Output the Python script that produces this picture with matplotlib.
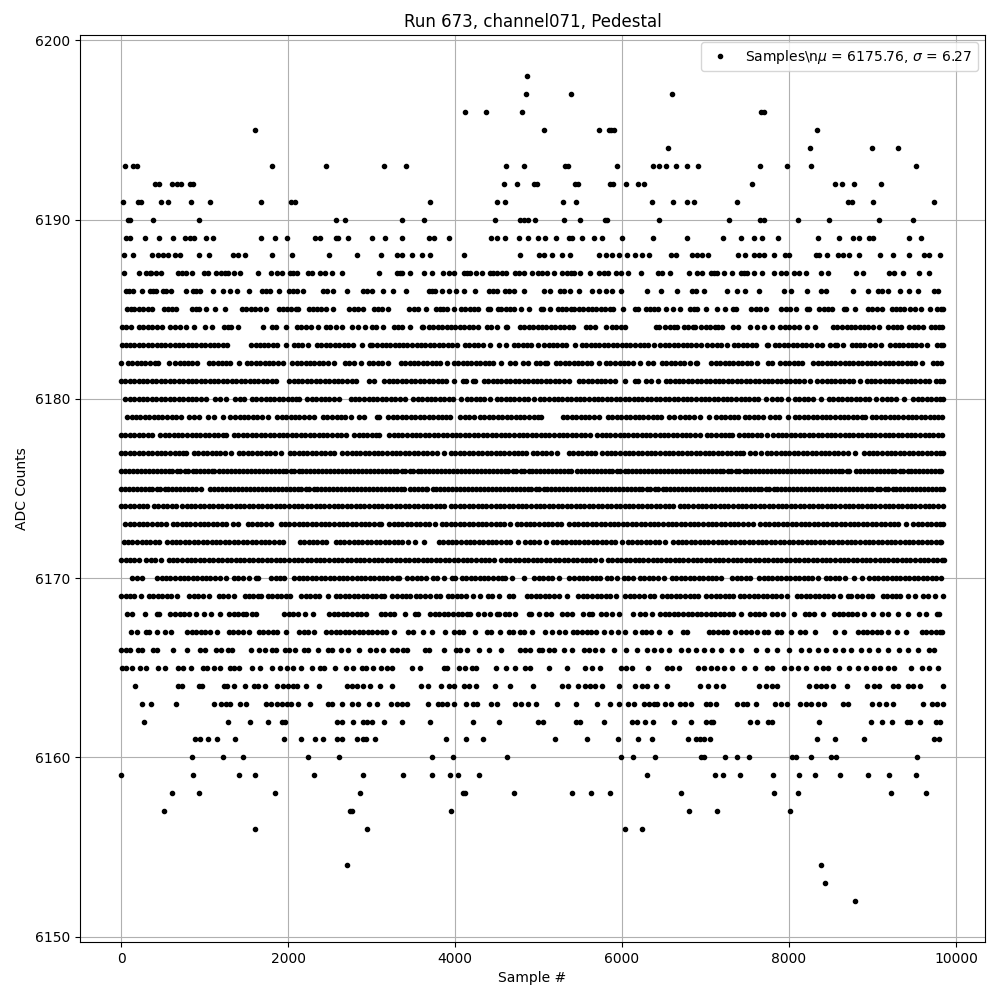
import matplotlib
matplotlib.use("Agg")
import matplotlib.pyplot as plt

# sample numbers, one list per ADC level
s6198 = [4858]
s6197 = [4846, 5386, 6598]
s6196 = [4114, 4366, 4798, 7662, 7702]
s6195 = [1606, 5062, 5722, 5842, 5870, 5902, 8338]
s6194 = [6546, 8254, 9000, 9310]
s6193 = [46, 142, 190, 1810, 2458, 3154, 3418, 4606, 4822, 5314, 5358, 5938, 6370, 6442, 6526, 6646, 6778, 6910, 7654, 7978, 8266, 9526]
s6192 = [402, 454, 610, 670, 714, 822, 862, 4582, 4738, 4942, 4982, 5434, 5474, 5854, 5894, 6046, 6190, 6262, 7558, 8554, 8638, 8782, 9106]
s6191 = [22, 202, 242, 478, 562, 838, 1066, 1678, 2034, 2082, 3694, 4498, 4602, 5290, 5446, 6358, 6610, 6782, 6862, 7378, 8710, 8750, 9010, 9742]
s6190 = [82, 110, 382, 934, 2578, 2686, 3370, 3622, 4474, 4774, 4822, 4870, 4954, 5302, 5494, 5790, 5822, 6442, 7282, 7654, 7702, 8110, 8482, 9082, 9490]
s6189 = [62, 110, 286, 450, 622, 766, 830, 878, 1018, 1102, 1678, 1846, 1990, 2326, 2386, 2574, 2598, 2722, 3010, 3166, 3370, 3682, 3742, 3922, 4430, 4502, 4602, 4762, 4870, 4990, 5074, 5206, 5362, 5402, 5518, 5662, 5758, 6002, 6370, 6778, 7210, 7430, 7582, 7682, 7870, 8350, 8602, 8770, 8842, 8962, 9002, 9442, 9586]
s6188 = [30, 142, 370, 442, 502, 562, 642, 702, 934, 1054, 1342, 1402, 1482, 1810, 2050, 2494, 2830, 3118, 3302, 3362, 3482, 3602, 3694, 4102, 4774, 5002, 5062, 5162, 5282, 5382, 5722, 5802, 5882, 5962, 6054, 6154, 6242, 6322, 6590, 6642, 6842, 6902, 6962, 7030, 7390, 7470, 7582, 7642, 7702, 7822, 7950, 8002, 8322, 8362, 8454, 8582, 8650, 8722, 8842, 9094, 9250, 9442, 9622, 9682, 9814]
s6187 = [30, 214, 302, 340, 362, 422, 482, 682, 730, 774, 854, 990, 1042, 1142, 1202, 1250, 1282, 1354, 1422, 1642, 1790, 1862, 1922, 2022, 2060, 2102, 2242, 2290, 2382, 2442, 2522, 2650, 3090, 3302, 3340, 3362, 3462, 3622, 3718, 3854, 3922, 3982, 4102, 4140, 4182, 4250, 4318, 4422, 4460, 4502, 4560, 4614, 4722, 4770, 4822, 4922, 4990, 5042, 5102, 5182, 5282, 5342, 5390, 5422, 5502, 5622, 5722, 5780, 5834, 5922, 5982, 6070, 6226, 6430, 6482, 6574, 6802, 6902, 6962, 7062, 7100, 7142, 7222, 7322, 7422, 7460, 7502, 7582, 7682, 7822, 7902, 7962, 8062, 8122, 8206, 8382, 8462, 8802, 8882, 9202, 9262, 9362, 9562, 9682]
s6186 = [62, 100, 142, 254, 342, 380, 422, 502, 540, 594, 782, 862, 900, 942, 1102, 1222, 1302, 1390, 1526, 1682, 1730, 1782, 1894, 2014, 2060, 2102, 2182, 2422, 2470, 2542, 2710, 2902, 2950, 3002, 3142, 3262, 3410, 3682, 3720, 3762, 3842, 3922, 4014, 4106, 4242, 4402, 4450, 4502, 4602, 4650, 4702, 4822, 5062, 5142, 5262, 5310, 5382, 5482, 5642, 5722, 5802, 5882, 5982, 6302, 6462, 6654, 6842, 6890, 6982, 7262, 7382, 7470, 7642, 7942, 8022, 8218, 8382, 8442, 8770, 8942, 9062, 9110, 9182, 9334, 9442, 9542, 9742, 9790]
s6185 = [70, 118, 160, 215, 260, 320, 374, 510, 560, 605, 662, 850, 900, 934, 1022, 1122, 1242, 1450, 1500, 1555, 1600, 1660, 1734, 1890, 1935, 1990, 2040, 2090, 2114, 2250, 2300, 2352, 2400, 2450, 2534, 2730, 2785, 2840, 2894, 3030, 3075, 3130, 3194, 3450, 3510, 3560, 3654, 3770, 3820, 3854, 3902, 3982, 4070, 4120, 4180, 4225, 4274, 4390, 4414, 4510, 4555, 4610, 4660, 4710, 4794, 4882, 5030, 5054, 5142, 5230, 5280, 5330, 5385, 5430, 5480, 5535, 5590, 5640, 5690, 5745, 5800, 5850, 5894, 6014, 6158, 6194, 6290, 6340, 6385, 6434, 6522, 6610, 6694, 6810, 6860, 6894, 7002, 7142, 7234, 7330, 7362, 7550, 7600, 7654, 7722, 7910, 7960, 8010, 8082, 8210, 8242, 8362, 8420, 8470, 8514, 8658, 8682, 8790, 8950, 9000, 9060, 9114, 9230, 9280, 9335, 9374, 9450, 9514, 9582, 9694, 9778, 9820, 9842]
s6184 = [5, 62, 114, 210, 260, 320, 370, 430, 494, 590, 640, 700, 774, 874, 1010, 1094, 1230, 1280, 1314, 1402, 1702, 1810, 1860, 1974, 2110, 2160, 2210, 2270, 2354, 2450, 2500, 2574, 2642, 2770, 2834, 2922, 3010, 3054, 3142, 3270, 3314, 3370, 3466, 3602, 3614, 3690, 3740, 3790, 3845, 3900, 3950, 4000, 4060, 4110, 4170, 4220, 4274, 4382, 4430, 4502, 4610, 4626, 4778, 4830, 4880, 4935, 4990, 5040, 5090, 5150, 5200, 5255, 5310, 5360, 5414, 5570, 5620, 5680, 5802, 5882, 5930, 5985, 6034, 6410, 6442, 6518, 6570, 6620, 6662, 6738, 6790, 6850, 6872, 6950, 7000, 7055, 7110, 7155, 7202, 7330, 7394, 7538, 7614, 7698, 7794, 7898, 7950, 8000, 8060, 8114, 8218, 8314, 8530, 8580, 8635, 8690, 8740, 8790, 8850, 8900, 8950, 9005, 9074, 9190, 9240, 9295, 9345, 9434, 9502, 9550, 9606, 9698, 9750, 9800, 9835]
s6183 = [5, 60, 105, 160, 210, 262, 320, 370, 425, 475, 530, 580, 640, 690, 745, 795, 850, 900, 955, 1005, 1060, 1110, 1165, 1215, 1274, 1558, 1610, 1660, 1715, 1765, 1820, 1870, 1974, 2070, 2120, 2170, 2234, 2350, 2400, 2455, 2505, 2560, 2610, 2665, 2715, 2774, 2890, 2982, 3010, 3065, 3120, 3170, 3225, 3275, 3330, 3380, 3430, 3490, 3540, 3595, 3645, 3700, 3750, 3805, 3855, 3910, 3960, 4026, 4118, 4170, 4225, 4275, 4330, 4414, 4530, 4614, 4702, 4755, 4810, 4860, 4915, 4994, 5070, 5120, 5175, 5225, 5280, 5330, 5434, 5518, 5570, 5625, 5680, 5730, 5785, 5835, 5890, 5940, 5995, 6050, 6100, 6155, 6210, 6260, 6314, 6380, 6458, 6510, 6565, 6620, 6670, 6725, 6775, 6830, 6880, 6950, 7014, 7082, 7138, 7190, 7254, 7342, 7395, 7450, 7500, 7555, 7606, 7738, 7754, 7830, 7885, 7940, 7990, 8045, 8100, 8150, 8205, 8260, 8334, 8394, 8490, 8545, 8574, 8650, 8750, 8800, 8855, 8894, 8970, 9025, 9102, 9210, 9265, 9315, 9370, 9420, 9475, 9525, 9580, 9654, 9770, 9820, 9850]
s6182 = [2, 82, 130, 185, 240, 290, 345, 400, 445, 574, 650, 700, 755, 802, 850, 914, 1050, 1100, 1155, 1205, 1260, 1310, 1414, 1510, 1560, 1615, 1665, 1720, 1770, 1825, 1874, 1942, 2050, 2105, 2155, 2210, 2260, 2315, 2370, 2420, 2475, 2554, 2682, 2735, 2790, 2874, 2970, 3020, 3075, 3125, 3194, 3350, 3400, 3455, 3510, 3560, 3615, 3665, 3720, 3770, 3825, 3902, 3982, 4035, 4090, 4140, 4195, 4250, 4300, 4355, 4405, 4460, 4546, 4662, 4722, 4810, 4874, 4970, 5020, 5075, 5102, 5210, 5260, 5315, 5370, 5420, 5475, 5525, 5580, 5630, 5726, 5810, 5860, 5915, 5970, 6020, 6075, 6130, 6214, 6310, 6374, 6482, 6530, 6585, 6640, 6690, 6745, 6814, 6890, 6894, 7070, 7125, 7175, 7230, 7285, 7335, 7390, 7440, 7495, 7550, 7622, 7750, 7794, 7898, 7950, 8005, 8060, 8110, 8154, 8290, 8345, 8395, 8450, 8505, 8555, 8610, 8665, 8715, 8770, 8825, 8875, 8930, 8985, 9035, 9090, 9145, 9195, 9250, 9305, 9355, 9410, 9465, 9515, 9594, 9722, 9770, 9822]
s6181 = [2, 50, 105, 155, 210, 265, 315, 370, 420, 475, 530, 580, 635, 690, 740, 795, 850, 900, 955, 1005, 1060, 1115, 1165, 1220, 1270, 1325, 1380, 1430, 1485, 1540, 1590, 1645, 1700, 1750, 1805, 1854, 2010, 2065, 2120, 2170, 2225, 2280, 2330, 2385, 2440, 2490, 2545, 2600, 2650, 2705, 2760, 2814, 2970, 3034, 3150, 3205, 3255, 3310, 3365, 3415, 3470, 3525, 3575, 3630, 3685, 3735, 3790, 3845, 3895, 3986, 4090, 4126, 4218, 4242, 4342, 4395, 4450, 4500, 4555, 4610, 4660, 4715, 4770, 4820, 4875, 4930, 4980, 5035, 5090, 5140, 5195, 5250, 5300, 5362, 5482, 5535, 5590, 5640, 5695, 5750, 5800, 5855, 5910, 6034, 6158, 6194, 6290, 6345, 6426, 6522, 6575, 6630, 6680, 6735, 6790, 6840, 6895, 6950, 7000, 7055, 7110, 7160, 7215, 7270, 7320, 7375, 7430, 7480, 7535, 7590, 7640, 7695, 7750, 7800, 7855, 7910, 7960, 8015, 8070, 8120, 8175, 8246, 8338, 8395, 8450, 8500, 8555, 8610, 8660, 8715, 8770, 8846, 8930, 8985, 9035, 9090, 9145, 9195, 9250, 9305, 9355, 9410, 9465, 9515, 9570, 9625, 9674, 9758, 9810, 9845]
s6180 = [50, 105, 155, 210, 265, 315, 370, 420, 475, 530, 580, 635, 690, 740, 795, 850, 900, 955, 1014, 1130, 1190, 1254, 1358, 1420, 1474, 1570, 1620, 1675, 1730, 1780, 1835, 1885, 1940, 1995, 2045, 2100, 2134, 2230, 2285, 2335, 2390, 2445, 2495, 2550, 2614, 2750, 2805, 2855, 2910, 2965, 3015, 3070, 3125, 3175, 3230, 3285, 3335, 3402, 3498, 3550, 3605, 3660, 3710, 3765, 3820, 3870, 3925, 3980, 4066, 4138, 4190, 4245, 4300, 4350, 4414, 4498, 4550, 4605, 4660, 4710, 4765, 4820, 4870, 4946, 5018, 5070, 5125, 5180, 5230, 5285, 5340, 5390, 5445, 5500, 5550, 5605, 5660, 5710, 5765, 5820, 5870, 5925, 5980, 6030, 6085, 6140, 6190, 6245, 6300, 6350, 6405, 6460, 6510, 6565, 6620, 6670, 6725, 6780, 6830, 6885, 6940, 6990, 7045, 7100, 7150, 7205, 7260, 7310, 7365, 7420, 7470, 7525, 7580, 7630, 7722, 7802, 7855, 7910, 7986, 8070, 8125, 8175, 8230, 8285, 8382, 8478, 8530, 8585, 8640, 8690, 8745, 8800, 8850, 8905, 8960, 9042, 9118, 9170, 9225, 9280, 9374, 9490, 9540, 9595, 9650, 9700, 9755, 9810, 9840]
s6179 = [70, 125, 175, 230, 285, 335, 390, 445, 495, 550, 605, 655, 714, 810, 870, 934, 1042, 1114, 1218, 1310, 1365, 1420, 1470, 1525, 1580, 1630, 1685, 1754, 1870, 1925, 1975, 2030, 2085, 2135, 2190, 2245, 2314, 2418, 2470, 2525, 2580, 2630, 2685, 2754, 2850, 2914, 3070, 3094, 3202, 3255, 3310, 3365, 3415, 3470, 3525, 3575, 3630, 3685, 3735, 3790, 3845, 3895, 3942, 4062, 4115, 4170, 4226, 4298, 4350, 4405, 4460, 4510, 4565, 4620, 4670, 4725, 4780, 4830, 4885, 4940, 4990, 5034, 5290, 5345, 5395, 5450, 5505, 5555, 5610, 5665, 5726, 5830, 5885, 5935, 5990, 6045, 6095, 6150, 6205, 6255, 6310, 6365, 6415, 6466, 6562, 6626, 6698, 6750, 6805, 6866, 6938, 7042, 7130, 7185, 7235, 7290, 7345, 7394, 7470, 7525, 7580, 7630, 7694, 7778, 7830, 7885, 7986, 8070, 8125, 8175, 8230, 8285, 8335, 8390, 8445, 8495, 8550, 8605, 8655, 8710, 8765, 8815, 8870, 8914, 8990, 9045, 9100, 9150, 9205, 9260, 9310, 9365, 9420, 9470, 9525, 9580, 9630, 9685, 9740, 9790, 9832]
s6178 = [0, 50, 105, 160, 210, 265, 320, 374, 470, 525, 575, 630, 685, 735, 790, 845, 895, 950, 1005, 1055, 1110, 1165, 1215, 1254, 1350, 1405, 1460, 1510, 1565, 1620, 1670, 1725, 1780, 1830, 1885, 1940, 1990, 2045, 2100, 2150, 2205, 2260, 2310, 2365, 2420, 2470, 2525, 2580, 2630, 2694, 2790, 2845, 2895, 2950, 3005, 3055, 3094, 3210, 3265, 3320, 3370, 3425, 3480, 3530, 3585, 3640, 3690, 3745, 3800, 3850, 3905, 3960, 4010, 4065, 4120, 4170, 4225, 4280, 4330, 4385, 4440, 4490, 4545, 4600, 4650, 4705, 4760, 4810, 4865, 4920, 4970, 5025, 5080, 5130, 5185, 5240, 5290, 5345, 5400, 5450, 5505, 5560, 5614, 5702, 5755, 5810, 5860, 5915, 5970, 6020, 6075, 6130, 6180, 6235, 6290, 6340, 6395, 6450, 6500, 6555, 6610, 6660, 6715, 6770, 6820, 6875, 6934, 7018, 7070, 7125, 7180, 7230, 7285, 7314, 7402, 7455, 7510, 7560, 7615, 7670, 7734, 7810, 7865, 7915, 7970, 8025, 8075, 8130, 8185, 8235, 8290, 8345, 8395, 8450, 8505, 8555, 8610, 8665, 8715, 8770, 8825, 8875, 8930, 8985, 9035, 9090, 9145, 9195, 9250, 9305, 9355, 9410, 9465, 9515, 9570, 9625, 9675, 9730, 9785, 9834]
s6177 = [0, 50, 105, 160, 210, 265, 320, 370, 425, 480, 530, 585, 640, 690, 745, 774, 870, 925, 980, 1030, 1085, 1140, 1190, 1245, 1314, 1410, 1465, 1520, 1570, 1625, 1680, 1730, 1785, 1840, 1914, 2018, 2070, 2125, 2180, 2230, 2285, 2340, 2390, 2445, 2500, 2554, 2650, 2705, 2760, 2810, 2865, 2920, 2970, 3025, 3080, 3130, 3185, 3240, 3290, 3345, 3400, 3450, 3505, 3560, 3610, 3665, 3720, 3786, 3870, 3950, 4005, 4060, 4110, 4165, 4220, 4270, 4325, 4380, 4430, 4485, 4540, 4590, 4645, 4700, 4750, 4805, 4854, 4930, 4985, 5040, 5090, 5145, 5226, 5362, 5415, 5470, 5520, 5575, 5630, 5682, 5762, 5815, 5870, 5920, 5975, 6030, 6080, 6135, 6190, 6240, 6295, 6350, 6400, 6455, 6510, 6560, 6615, 6670, 6720, 6775, 6830, 6880, 6935, 6990, 7040, 7095, 7150, 7200, 7255, 7310, 7360, 7415, 7454, 7538, 7590, 7666, 7738, 7790, 7845, 7900, 7950, 8005, 8060, 8110, 8165, 8220, 8270, 8325, 8380, 8430, 8485, 8540, 8590, 8645, 8706, 8790, 8902, 8955, 9010, 9060, 9115, 9170, 9220, 9275, 9330, 9380, 9435, 9490, 9540, 9595, 9650, 9700, 9755, 9810, 9840]
s6176 = [0, 45, 95, 140, 190, 235, 285, 330, 380, 425, 475, 520, 570, 615, 665, 710, 760, 805, 855, 900, 950, 995, 1045, 1090, 1114, 1174, 1220, 1270, 1315, 1365, 1410, 1460, 1505, 1555, 1600, 1650, 1695, 1745, 1790, 1840, 1885, 1935, 1980, 2030, 2075, 2125, 2170, 2220, 2265, 2315, 2360, 2410, 2455, 2505, 2550, 2600, 2645, 2695, 2740, 2790, 2835, 2885, 2930, 2980, 3025, 3075, 3120, 3170, 3215, 3265, 3310, 3360, 3405, 3455, 3500, 3550, 3595, 3645, 3690, 3740, 3785, 3835, 3880, 3930, 3975, 4025, 4070, 4120, 4165, 4215, 4260, 4310, 4355, 4405, 4450, 4500, 4545, 4595, 4640, 4690, 4735, 4785, 4830, 4880, 4925, 4975, 5020, 5070, 5115, 5165, 5210, 5260, 5305, 5355, 5394, 5458, 5505, 5555, 5600, 5650, 5695, 5745, 5790, 5840, 5885, 5935, 5980, 6030, 6075, 6125, 6170, 6220, 6265, 6315, 6360, 6410, 6455, 6505, 6550, 6600, 6645, 6695, 6740, 6790, 6835, 6885, 6930, 6980, 7025, 7075, 7120, 7170, 7215, 7265, 7310, 7360, 7405, 7455, 7500, 7550, 7595, 7645, 7690, 7740, 7785, 7835, 7880, 7930, 7975, 8025, 8070, 8120, 8165, 8215, 8260, 8310, 8355, 8405, 8450, 8500, 8545, 8595, 8640, 8690, 8722, 8802, 8850, 8895, 8945, 8990, 9040, 9085, 9135, 9180, 9230, 9275, 9325, 9370, 9420, 9465, 9515, 9560, 9610, 9655, 9705, 9750, 9800, 9822]
s6175 = [0, 45, 90, 140, 185, 235, 280, 330, 375, 425, 470, 520, 565, 615, 660, 710, 755, 805, 850, 900, 954, 1070, 1115, 1165, 1210, 1260, 1305, 1355, 1400, 1450, 1495, 1545, 1590, 1640, 1685, 1735, 1780, 1830, 1875, 1925, 1970, 2020, 2065, 2115, 2160, 2210, 2255, 2305, 2350, 2400, 2445, 2495, 2540, 2590, 2635, 2685, 2730, 2780, 2825, 2875, 2920, 2970, 3015, 3065, 3110, 3160, 3205, 3255, 3300, 3350, 3386, 3458, 3505, 3555, 3600, 3650, 3666, 3730, 3775, 3825, 3870, 3920, 3965, 4015, 4060, 4110, 4155, 4205, 4250, 4300, 4345, 4395, 4440, 4490, 4535, 4585, 4630, 4680, 4725, 4775, 4820, 4870, 4915, 4965, 5010, 5060, 5105, 5155, 5200, 5250, 5295, 5345, 5390, 5440, 5485, 5535, 5580, 5630, 5675, 5725, 5770, 5820, 5865, 5915, 5960, 6010, 6055, 6105, 6150, 6200, 6245, 6295, 6340, 6390, 6435, 6485, 6530, 6580, 6625, 6675, 6720, 6770, 6815, 6865, 6910, 6960, 7005, 7055, 7100, 7150, 7195, 7245, 7290, 7340, 7385, 7435, 7480, 7530, 7575, 7625, 7670, 7720, 7765, 7815, 7860, 7910, 7955, 8005, 8050, 8100, 8145, 8195, 8240, 8290, 8335, 8385, 8430, 8480, 8525, 8575, 8620, 8670, 8715, 8765, 8810, 8860, 8905, 8955, 9000, 9050, 9095, 9145, 9190, 9240, 9285, 9335, 9380, 9430, 9475, 9525, 9570, 9620, 9665, 9715, 9760, 9810, 9850]
s6174 = [0, 50, 105, 155, 210, 265, 314, 390, 445, 500, 550, 605, 654, 730, 785, 835, 890, 945, 995, 1050, 1105, 1155, 1210, 1265, 1315, 1370, 1425, 1475, 1530, 1585, 1635, 1690, 1745, 1795, 1850, 1905, 1955, 2010, 2065, 2115, 2170, 2225, 2275, 2330, 2385, 2435, 2490, 2545, 2595, 2650, 2705, 2755, 2810, 2865, 2915, 2970, 3025, 3075, 3130, 3185, 3235, 3290, 3345, 3395, 3450, 3505, 3555, 3610, 3665, 3715, 3770, 3825, 3866, 3950, 4005, 4055, 4110, 4165, 4215, 4270, 4325, 4375, 4430, 4485, 4535, 4590, 4645, 4695, 4750, 4805, 4855, 4910, 4965, 5015, 5070, 5125, 5175, 5230, 5285, 5335, 5390, 5445, 5495, 5550, 5605, 5655, 5710, 5765, 5815, 5870, 5925, 5975, 6030, 6085, 6135, 6190, 6245, 6295, 6350, 6405, 6455, 6510, 6565, 6614, 6690, 6745, 6795, 6850, 6905, 6955, 7010, 7065, 7115, 7170, 7225, 7275, 7330, 7385, 7434, 7490, 7545, 7595, 7650, 7705, 7755, 7810, 7865, 7915, 7970, 8025, 8075, 8130, 8185, 8235, 8290, 8345, 8395, 8450, 8505, 8555, 8610, 8665, 8715, 8770, 8825, 8875, 8930, 8985, 9035, 9090, 9145, 9195, 9250, 9305, 9355, 9410, 9465, 9515, 9570, 9625, 9675, 9730, 9785, 9845]
s6173 = [50, 105, 155, 210, 265, 315, 370, 425, 475, 534, 618, 670, 725, 780, 830, 885, 940, 990, 1045, 1100, 1150, 1205, 1260, 1334, 1402, 1518, 1570, 1625, 1680, 1730, 1794, 1910, 1965, 2015, 2070, 2125, 2175, 2230, 2285, 2335, 2390, 2445, 2495, 2550, 2605, 2655, 2710, 2765, 2815, 2870, 2925, 2975, 3030, 3085, 3114, 3210, 3265, 3315, 3370, 3425, 3475, 3530, 3585, 3635, 3690, 3754, 3842, 3895, 3950, 4005, 4055, 4110, 4165, 4215, 4270, 4325, 4375, 4430, 4485, 4535, 4590, 4654, 4738, 4790, 4845, 4900, 4950, 5005, 5060, 5110, 5165, 5220, 5274, 5370, 5425, 5475, 5530, 5585, 5635, 5690, 5745, 5795, 5850, 5905, 5955, 6010, 6065, 6115, 6170, 6225, 6275, 6330, 6385, 6435, 6490, 6545, 6595, 6650, 6705, 6755, 6810, 6865, 6915, 6970, 7025, 7075, 7130, 7185, 7235, 7290, 7345, 7395, 7450, 7505, 7574, 7658, 7710, 7765, 7820, 7870, 7925, 7980, 8030, 8085, 8140, 8190, 8245, 8300, 8350, 8405, 8460, 8510, 8565, 8620, 8670, 8725, 8780, 8830, 8885, 8940, 8990, 9045, 9100, 9150, 9205, 9260, 9306, 9396, 9490, 9545, 9595, 9650, 9705, 9755, 9810, 9845]
s6172 = [30, 85, 135, 190, 245, 295, 350, 405, 454, 550, 605, 655, 710, 765, 815, 870, 925, 975, 1030, 1085, 1135, 1190, 1245, 1295, 1350, 1405, 1455, 1510, 1565, 1615, 1670, 1725, 1775, 1830, 1885, 1934, 2138, 2190, 2245, 2300, 2350, 2405, 2454, 2570, 2625, 2675, 2730, 2785, 2835, 2890, 2945, 2995, 3050, 3105, 3155, 3210, 3265, 3315, 3370, 3434, 3518, 3626, 3802, 3855, 3910, 3965, 4015, 4070, 4125, 4175, 4230, 4285, 4335, 4390, 4445, 4495, 4550, 4605, 4655, 4754, 4842, 4895, 4950, 5005, 5094, 5170, 5225, 5275, 5330, 5385, 5435, 5490, 5545, 5595, 5650, 5705, 5755, 5810, 5865, 5915, 5994, 6070, 6125, 6175, 6230, 6285, 6335, 6390, 6445, 6514, 6610, 6665, 6715, 6770, 6825, 6875, 6930, 6985, 7035, 7090, 7145, 7195, 7250, 7305, 7355, 7410, 7465, 7515, 7570, 7625, 7675, 7730, 7785, 7835, 7890, 7945, 7995, 8050, 8105, 8155, 8210, 8265, 8315, 8370, 8425, 8475, 8530, 8585, 8635, 8690, 8745, 8795, 8850, 8905, 8955, 9010, 9065, 9115, 9170, 9225, 9275, 9330, 9385, 9435, 9490, 9545, 9595, 9650, 9705, 9755, 9810, 9822]
s6171 = [0, 55, 105, 160, 214, 302, 355, 410, 474, 570, 625, 675, 730, 785, 835, 890, 945, 995, 1050, 1105, 1155, 1210, 1265, 1315, 1370, 1425, 1475, 1530, 1585, 1635, 1690, 1745, 1795, 1850, 1905, 1955, 2010, 2065, 2115, 2170, 2225, 2275, 2330, 2385, 2435, 2490, 2545, 2595, 2650, 2705, 2755, 2810, 2865, 2915, 2970, 3025, 3075, 3130, 3185, 3235, 3290, 3345, 3395, 3450, 3505, 3555, 3610, 3665, 3715, 3770, 3825, 3875, 3930, 3985, 4035, 4090, 4145, 4195, 4250, 4305, 4355, 4410, 4466, 4554, 4610, 4660, 4715, 4770, 4820, 4875, 4930, 4980, 5035, 5090, 5140, 5195, 5250, 5300, 5355, 5410, 5460, 5515, 5570, 5620, 5675, 5746, 5830, 5885, 5935, 5990, 6045, 6095, 6150, 6205, 6255, 6310, 6365, 6415, 6470, 6525, 6575, 6630, 6685, 6735, 6790, 6845, 6895, 6950, 7005, 7055, 7110, 7165, 7215, 7270, 7325, 7375, 7430, 7485, 7535, 7590, 7645, 7695, 7750, 7805, 7855, 7910, 7965, 8015, 8070, 8125, 8175, 8230, 8285, 8335, 8390, 8445, 8495, 8550, 8605, 8655, 8710, 8765, 8815, 8870, 8925, 8975, 9030, 9085, 9135, 9190, 9245, 9295, 9350, 9405, 9455, 9510, 9565, 9615, 9670, 9725, 9775, 9830, 9855]
s6170 = [130, 185, 254, 430, 485, 540, 590, 645, 700, 750, 805, 860, 910, 965, 1020, 1070, 1125, 1180, 1254, 1350, 1400, 1455, 1530, 1610, 1634, 1798, 1850, 1905, 1954, 2070, 2125, 2180, 2230, 2285, 2340, 2390, 2445, 2500, 2550, 2605, 2660, 2710, 2765, 2820, 2870, 2925, 2980, 3030, 3085, 3140, 3190, 3245, 3300, 3334, 3430, 3485, 3540, 3590, 3654, 3730, 3785, 3866, 3962, 3994, 4082, 4135, 4190, 4240, 4295, 4350, 4400, 4455, 4510, 4560, 4594, 4682, 4822, 4950, 5005, 5055, 5110, 5165, 5246, 5370, 5425, 5480, 5530, 5585, 5640, 5690, 5734, 5818, 5870, 5934, 6018, 6075, 6134, 6210, 6265, 6320, 6370, 6425, 6506, 6598, 6650, 6705, 6760, 6810, 6865, 6920, 6970, 7025, 7080, 7130, 7182, 7322, 7375, 7430, 7480, 7534, 7642, 7695, 7750, 7800, 7855, 7910, 7960, 8015, 8070, 8120, 8175, 8230, 8280, 8346, 8442, 8495, 8550, 8600, 8674, 8782, 8874, 8962, 9015, 9070, 9120, 9175, 9230, 9280, 9335, 9390, 9440, 9495, 9550, 9600, 9655, 9710, 9760, 9815]
s6169 = [0, 55, 105, 160, 234, 330, 385, 440, 490, 545, 600, 674, 818, 870, 925, 980, 1054, 1170, 1225, 1280, 1354, 1478, 1530, 1585, 1640, 1674, 1758, 1810, 1865, 1920, 1975, 2026, 2158, 2210, 2265, 2320, 2375, 2474, 2570, 2625, 2680, 2730, 2785, 2840, 2895, 2945, 3000, 3055, 3110, 3154, 3250, 3305, 3360, 3410, 3465, 3530, 3580, 3640, 3700, 3770, 3822, 3910, 3965, 4020, 4075, 4130, 4214, 4298, 4390, 4445, 4526, 4642, 4694, 4858, 4910, 4965, 5020, 5075, 5130, 5185, 5240, 5342, 5478, 5530, 5585, 5640, 5695, 5750, 5805, 5860, 5926, 6038, 6090, 6145, 6200, 6266, 6338, 6386, 6482, 6535, 6590, 6645, 6700, 6755, 6810, 6865, 6914, 7010, 7065, 7120, 7175, 7230, 7285, 7334, 7410, 7465, 7520, 7575, 7630, 7685, 7740, 7795, 7850, 7905, 7974, 8090, 8145, 8200, 8255, 8310, 8365, 8420, 8470, 8526, 8616, 8710, 8742, 8810, 8874, 8950, 8994, 9122, 9175, 9230, 9285, 9334, 9430, 9514, 9610, 9665, 9754, 9840]
s6168 = [70, 134, 282, 430, 454, 590, 645, 700, 755, 810, 894, 990, 1074, 1182, 1298, 1350, 1405, 1460, 1494, 1570, 1614, 1950, 2005, 2060, 2114, 2202, 2302, 2490, 2545, 2600, 2655, 2710, 2765, 2820, 2875, 2934, 3110, 3165, 3220, 3274, 3400, 3520, 3560, 3700, 3755, 3810, 3865, 3920, 3975, 4030, 4085, 4140, 4174, 4270, 4350, 4414, 4498, 4526, 4598, 4650, 4722, 4890, 4914, 5010, 5090, 5146, 5282, 5335, 5406, 5530, 5610, 5646, 5750, 5805, 5874, 5958, 6130, 6218, 6270, 6354, 6458, 6510, 6565, 6620, 6675, 6730, 6785, 6840, 6895, 6950, 7005, 7060, 7115, 7170, 7225, 7280, 7335, 7426, 7538, 7590, 7645, 7706, 7802, 7855, 7934, 8062, 8190, 8245, 8300, 8402, 8542, 8595, 8650, 8705, 8760, 8815, 8902, 9010, 9110, 9182, 9302, 9430, 9554, 9642, 9770, 9802]
s6167 = [122, 194, 302, 334, 430, 522, 602, 790, 845, 900, 955, 1010, 1065, 1154, 1290, 1345, 1400, 1455, 1534, 1650, 1705, 1760, 1815, 1870, 1974, 2130, 2185, 2240, 2314, 2458, 2515, 2570, 2625, 2680, 2735, 2790, 2845, 2900, 2955, 3010, 3065, 3120, 3174, 3274, 3442, 3494, 3614, 3718, 3882, 3990, 4045, 4100, 4242, 4378, 4430, 4534, 4642, 4694, 4778, 4830, 4922, 5078, 5162, 5242, 5322, 5410, 5465, 5520, 5575, 5630, 5685, 5786, 5870, 5950, 6034, 6154, 6238, 6290, 6346, 6446, 6574, 6730, 6782, 7042, 7095, 7150, 7205, 7262, 7354, 7430, 7485, 7540, 7614, 7698, 7754, 7858, 7910, 8022, 8130, 8194, 8310, 8550, 8654, 8830, 8885, 8940, 8995, 9050, 9105, 9186, 9298, 9402, 9590, 9645, 9700, 9755, 9810, 9832]
s6166 = [2, 62, 110, 202, 254, 382, 430, 622, 790, 950, 1002, 1142, 1202, 1282, 1330, 1558, 1654, 1722, 1802, 1850, 1966, 2010, 2078, 2190, 2242, 2362, 2482, 2522, 2630, 2722, 2846, 2982, 3054, 3142, 3242, 3302, 3374, 3430, 3642, 3690, 3862, 4014, 4062, 4142, 4282, 4402, 4546, 4774, 4842, 4902, 5000, 5042, 5122, 5182, 5302, 5402, 5542, 5602, 5682, 5762, 5902, 6042, 6182, 6302, 6382, 6462, 6562, 6702, 6790, 6886, 6982, 7082, 7182, 7322, 7422, 7602, 7742, 7854, 8002, 8142, 8242, 8342, 8442, 8554, 8642, 8742, 8862, 8962, 9062, 9182, 9322, 9422, 9542, 9682, 9742]
s6165 = [6, 62, 134, 222, 302, 442, 522, 682, 742, 834, 982, 1030, 1114, 1182, 1302, 1350, 1414, 1562, 1662, 1802, 1902, 1982, 2062, 2158, 2290, 2382, 2430, 2566, 2694, 2782, 2882, 2934, 3022, 3110, 3182, 3250, 3490, 3574, 3862, 3902, 4042, 4122, 4202, 4254, 4486, 4614, 4714, 4842, 4894, 5122, 5342, 5562, 5642, 5734, 5982, 6042, 6122, 6310, 6534, 6602, 6682, 6910, 6982, 7062, 7142, 7222, 7322, 7462, 7594, 7742, 7802, 7942, 8022, 8110, 8206, 8326, 8402, 8470, 8594, 8722, 8822, 8926, 9022, 9094, 9182, 9262, 9466, 9590, 9682, 9782]
s6164 = [166, 682, 734, 934, 974, 1230, 1270, 1354, 1482, 1590, 1642, 1726, 1870, 1934, 2002, 2062, 2110, 2218, 2374, 2710, 2762, 2822, 2902, 2986, 3106, 3242, 3594, 3674, 3826, 3922, 3990, 4102, 4162, 4246, 4474, 4654, 4934, 5282, 5350, 5470, 5562, 5622, 5682, 5762, 5962, 6154, 6242, 6302, 6402, 6534, 6934, 7030, 7130, 7210, 7642, 7722, 7802, 7862, 8242, 8322, 8382, 8442, 8530, 8698, 8930, 9022, 9082, 9242, 9302, 9422, 9482, 9574, 9842]
s6163 = [250, 358, 654, 1114, 1202, 1254, 1310, 1422, 1490, 1734, 1790, 1862, 1922, 1982, 2030, 2122, 2266, 2482, 2530, 2646, 2770, 2834, 2974, 3070, 3230, 3302, 3362, 3422, 3670, 3790, 3842, 3902, 3990, 4126, 4214, 4262, 4426, 4498, 4722, 4790, 4874, 4966, 5218, 5446, 5702, 5854, 5962, 6070, 6142, 6262, 6322, 6382, 6422, 6514, 6582, 6694, 6750, 6822, 7002, 7050, 7126, 7378, 7450, 7494, 7606, 7834, 7902, 7974, 8134, 8202, 8262, 8342, 8422, 8646, 8702, 8998, 9082, 9162, 9242, 9602, 9710, 9774, 9842]
s6162 = [274, 1282, 1546, 1762, 1930, 1962, 2582, 2642, 2782, 2894, 2942, 3002, 3154, 3370, 3694, 4218, 4522, 4990, 5054, 5454, 5502, 5782, 6122, 6174, 6274, 6370, 6622, 6826, 7002, 7062, 7094, 7534, 7622, 7754, 7794, 8362, 8986, 9110, 9238, 9414, 9446, 9574, 9762, 9814]
s6161 = [886, 946, 1042, 1150, 1366, 1954, 2158, 2326, 2422, 2590, 2642, 2830, 2902, 2930, 3046, 3886, 4126, 4330, 5194, 5578, 5950, 6190, 6358, 6790, 6882, 6934, 6982, 7054, 8338, 8554, 8902, 9742, 9802]
s6160 = [850, 1222, 1462, 2242, 2614, 3718, 3970, 4618, 5986, 6130, 6394, 6950, 6982, 7234, 7378, 7522, 8030, 8082, 8266, 8502, 8566, 9538]
s6159 = [0, 862, 1414, 1606, 2314, 2902, 3382, 3718, 3934, 4030, 4282, 6298, 7114, 7210, 7414, 7810, 8122, 8314, 8614, 8950, 9202, 9526]
s6158 = [610, 934, 1846, 2866, 4100, 4120, 4702, 5398, 5626, 5854, 6706, 7822, 8110, 9226, 9646]
s6157 = [514, 2745, 2762, 3946, 6802, 7138, 8014]
s6156 = [1606, 2950, 6034, 6238]
s6154 = [2710, 8386]
s6153 = [8434]
s6152 = [8794]

levels = [6198, 6197, 6196, 6195, 6194, 6193, 6192, 6191, 6190, 6189, 6188, 6187, 6186, 6185, 6184, 6183, 6182, 6181, 6180, 6179, 6178, 6177, 6176, 6175, 6174, 6173, 6172, 6171, 6170, 6169, 6168, 6167, 6166, 6165, 6164, 6163, 6162, 6161, 6160, 6159, 6158, 6157, 6156, 6154, 6153, 6152]
samples = [s6198, s6197, s6196, s6195, s6194, s6193, s6192, s6191, s6190, s6189, s6188, s6187, s6186, s6185, s6184, s6183, s6182, s6181, s6180, s6179, s6178, s6177, s6176, s6175, s6174, s6173, s6172, s6171, s6170, s6169, s6168, s6167, s6166, s6165, s6164, s6163, s6162, s6161, s6160, s6159, s6158, s6157, s6156, s6154, s6153, s6152]

xs = []
ys = []
for level, row in zip(levels, samples):
    xs += row
    ys += [level] * len(row)

plt.figure(figsize=(10, 10))
plt.plot(xs, ys, 'k.', label=r'Samples\n$\mu$ = 6175.76, $\sigma$ = 6.27')
plt.title('Run 673, channel071, Pedestal')
plt.xlabel('Sample #')
plt.ylabel('ADC Counts')
plt.grid(True)
plt.legend(loc='upper right')
plt.subplots_adjust(left=0.08, right=0.985, top=0.965, bottom=0.058)
plt.savefig('out.png', dpi=100)
